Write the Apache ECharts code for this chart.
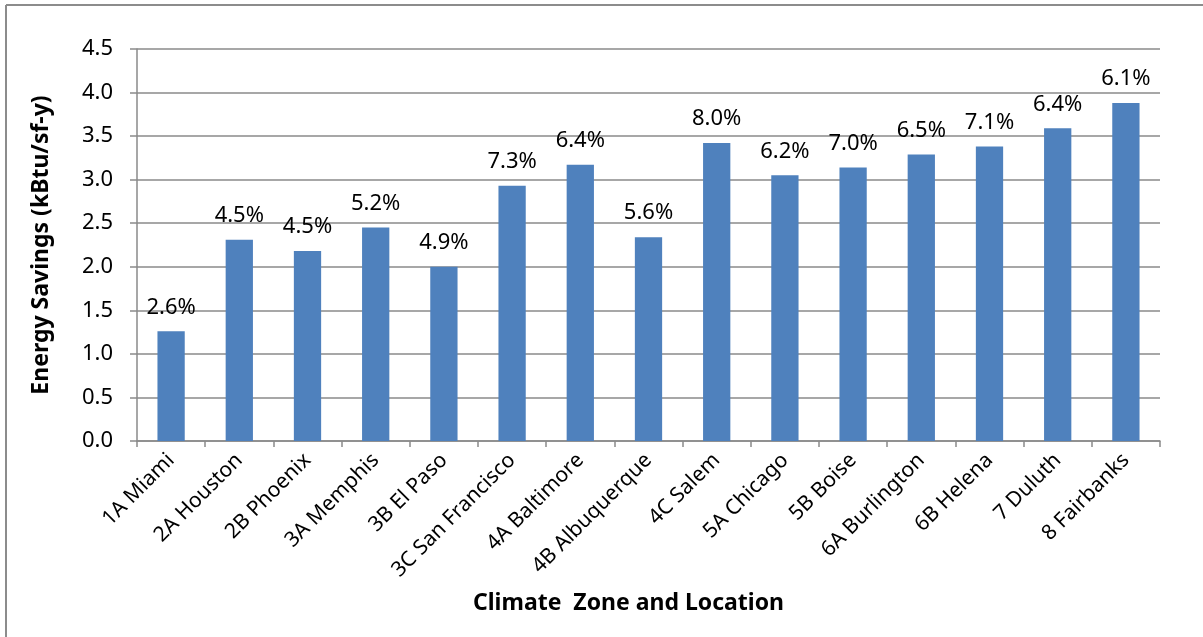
<!DOCTYPE html>
<html>
<head>
<meta charset="utf-8">
<script src="https://cdn.jsdelivr.net/npm/echarts@6/dist/echarts.min.js"></script>
<style>
  html, body { margin: 0; padding: 0; background: #fff; }
  #chart { width: 1203px; height: 637px; }
</style>
</head>
<body>
<div id="chart"></div>
<script>
// Climate zones with their representative city
const categories = [
  '1A Miami', '2A Houston', '2B Phoenix', '3A Memphis', '3B El Paso',
  '3C San Francisco', '4A Baltimore', '4B Albuquerque', '4C Salem', '5A Chicago',
  '5B Boise', '6A Burlington', '6B Helena', '7 Duluth', '8 Fairbanks'
];
// Energy savings per square foot per year (kBtu/sf-y)
const savings = [1.26, 2.31, 2.18, 2.45, 2.00, 2.93, 3.17, 2.34, 3.42, 3.05, 3.14, 3.29, 3.38, 3.59, 3.88];
// Percent savings shown above each bar
const percentSavings = ['2.6%', '4.5%', '4.5%', '5.2%', '4.9%', '7.3%', '6.4%', '5.6%', '8.0%', '6.2%', '7.0%', '6.5%', '7.1%', '6.4%', '6.1%'];
// Value axis ticks
const yTicks = { min: 0, max: 4.5, step: 0.5 };

const FONT = '"Noto Sans", "Open Sans", sans-serif';
const GRID_COLOR = '#8a8a8a';

const chart = echarts.init(document.getElementById('chart'), null, { renderer: 'canvas' });

chart.setOption({
  backgroundColor: '#ffffff',
  animation: false,
  graphic: [
    // chart frame (top and left edges)
    { type: 'line', shape: { x1: 6, y1: 5, x2: 1203, y2: 5 }, style: { stroke: '#8c8c8c', lineWidth: 2 } },
    { type: 'line', shape: { x1: 6, y1: 5, x2: 6, y2: 637 }, style: { stroke: '#8c8c8c', lineWidth: 2 } }
  ],
  grid: { left: 137, right: 43, top: 49, bottom: 196, containLabel: false },
  xAxis: {
    type: 'category',
    data: categories,
    boundaryGap: true,
    name: 'Climate  Zone and Location',
    nameLocation: 'middle',
    nameGap: 151,
    nameTextStyle: { fontFamily: FONT, fontSize: 23, fontWeight: 'bold', color: '#000', padding: [0, 40, 0, 0] },
    axisLine: { show: true, lineStyle: { color: GRID_COLOR, width: 1.5 } },
    axisTick: { show: true, alignWithLabel: false, length: 6, lineStyle: { color: GRID_COLOR, width: 1.5 } },
    axisLabel: {
      interval: 0,
      rotate: 45,
      margin: 16,
      fontFamily: FONT,
      fontSize: 21,
      color: '#000'
    },
    splitLine: { show: false }
  },
  yAxis: {
    type: 'value',
    min: yTicks.min,
    max: yTicks.max,
    interval: yTicks.step,
    name: 'Energy Savings (kBtu/sf-y)',
    nameLocation: 'middle',
    nameRotate: 90,
    nameGap: 84,
    nameTextStyle: { fontFamily: FONT, fontSize: 23, fontWeight: 'bold', color: '#000' },
    axisLine: { show: true, lineStyle: { color: GRID_COLOR, width: 1.5 } },
    axisTick: { show: true, length: 7, lineStyle: { color: GRID_COLOR, width: 1.5 } },
    axisLabel: {
      margin: 24,
      fontFamily: FONT,
      fontSize: 22,
      color: '#000',
      formatter: v => v.toFixed(1)
    },
    splitLine: { show: true, lineStyle: { color: GRID_COLOR, width: 1.5 } }
  },
  series: [{
    type: 'bar',
    data: savings,
    barWidth: '40%',
    itemStyle: { color: '#4f81bd' },
    label: {
      show: true,
      position: 'top',
      distance: 13,
      fontFamily: FONT,
      fontSize: 22,
      color: '#000',
      formatter: p => percentSavings[p.dataIndex]
    }
  }]
});
</script>
</body>
</html>
